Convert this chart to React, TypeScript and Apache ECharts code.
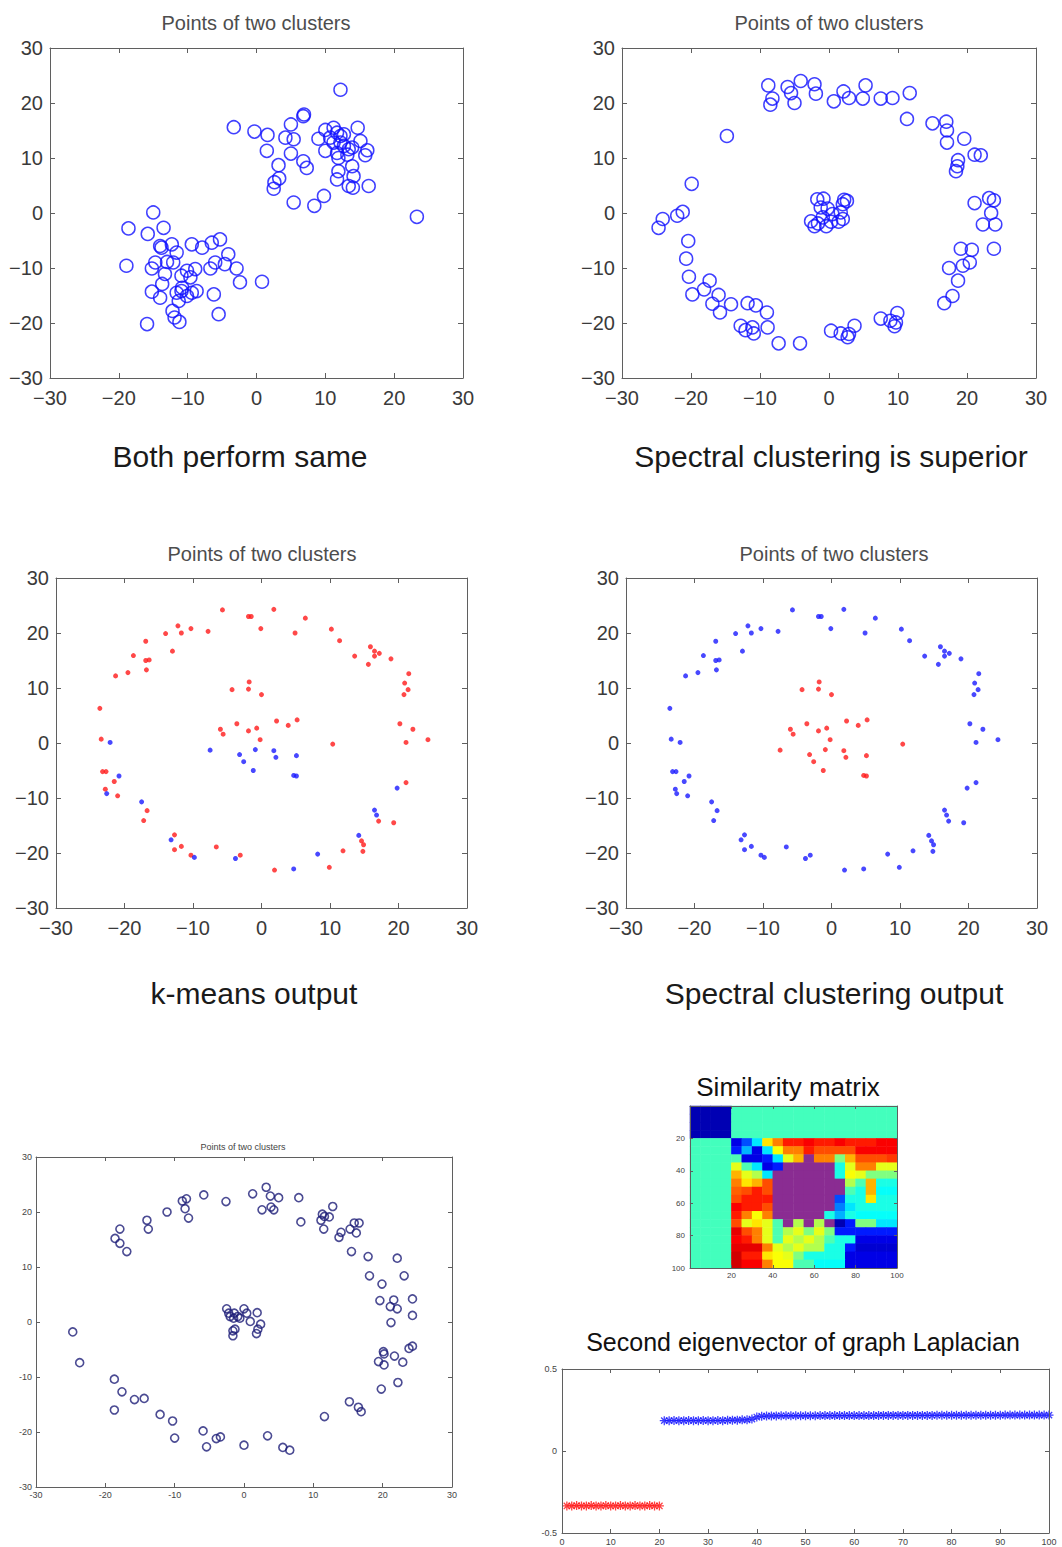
import React, { useEffect, useRef } from 'react';
import * as echarts from 'echarts';

// ---------- DATA ----------
// Panel 1: two gaussian blobs
const blobPoints: number[][] = [
  [12.2, 22.4], [-3.3, 15.6], [-0.3, 14.8], [1.6, 14.2], [5.0, 16.1], [6.8, 17.6], [6.9, 17.9], [4.2, 13.7],
  [5.4, 13.4], [1.5, 11.3], [5.0, 10.8], [6.8, 9.4], [7.3, 8.2], [3.2, 8.7], [3.3, 6.3], [2.6, 5.6],
  [2.5, 4.4], [5.4, 1.9], [8.4, 1.3], [9.8, 3.1], [9.0, 13.5], [10.0, 15.1], [11.2, 15.5], [11.7, 14.6],
  [12.2, 14.0], [10.7, 13.7], [11.2, 12.8], [12.7, 12.2], [11.7, 10.9], [10.0, 11.3], [13.4, 11.6], [13.9, 11.9],
  [14.7, 15.5], [15.1, 13.1], [16.1, 11.4], [15.8, 10.5], [16.3, 4.9], [13.9, 8.5], [14.1, 6.7], [11.9, 7.6],
  [11.7, 6.1], [13.4, 4.9], [14.0, 4.6], [12.7, 14.3], [13.2, 10.6], [23.3, -0.7], [12.2, 12.8], [11.9, 10.0],
  [-15.0, 0.1], [-18.6, -2.8], [-13.5, -2.7], [-15.8, -3.8], [-14.0, -6.0], [-13.8, -6.3], [-12.3, -5.7], [-11.6, -7.2],
  [-9.4, -5.7], [-7.9, -6.3], [-6.5, -5.4], [-5.3, -4.8], [-4.1, -7.5], [-4.6, -9.3], [-2.9, -10.1], [-2.4, -12.6],
  [0.8, -12.5], [-6.0, -9.0], [-6.7, -10.1], [-6.2, -14.8], [-5.5, -18.4], [-18.9, -9.6], [-15.2, -10.1], [-14.7, -9.0],
  [-13.0, -8.9], [-12.1, -9.0], [-13.3, -11.1], [-13.7, -12.9], [-15.2, -14.3], [-14.0, -15.4], [-10.9, -11.4], [-10.1, -10.5],
  [-8.9, -10.2], [-9.6, -11.7], [-11.6, -14.5], [-10.9, -14.2], [-10.1, -15.1], [-9.4, -14.5], [-8.7, -14.2], [-11.3, -16.0],
  [-12.2, -17.8], [-11.9, -19.0], [-11.2, -19.8], [-15.9, -20.2], [-10.8, -13.6],
];

// Panel 2: ring + center cluster
const ringPointsA: number[][] = [
  [-8.8, 23.2], [-8.2, 20.8], [-8.5, 19.7], [-6.0, 22.9], [-5.5, 21.8], [-5.0, 20.0], [-4.1, 24.0], [-2.1, 23.4],
  [-1.9, 21.7], [0.7, 20.3], [2.1, 22.1], [2.9, 20.9], [4.9, 20.8], [5.3, 23.2], [7.5, 20.8], [9.2, 20.9],
  [11.7, 21.8], [11.3, 17.1], [15.0, 16.3], [17.0, 16.6], [17.1, 15.0], [17.1, 12.8], [19.6, 13.5], [21.1, 10.6],
  [22.0, 10.5], [18.7, 9.6], [18.6, 8.5], [18.4, 7.6], [21.1, 1.8], [23.2, 2.7], [23.9, 2.3], [23.5, 0.0],
  [22.3, -2.1], [24.1, -2.1], [19.1, -6.5], [20.7, -6.7], [23.9, -6.5], [17.4, -10.0], [19.4, -9.6], [20.4, -9.0],
  [18.7, -12.3], [17.9, -15.1], [16.7, -16.4], [9.9, -18.2], [7.5, -19.2], [8.9, -19.6], [9.5, -20.6], [9.7, -19.9],
  [3.7, -20.5], [0.3, -21.4], [1.7, -21.9], [2.7, -22.6], [2.9, -22.0], [-4.2, -23.7], [-7.3, -23.7], [-9.0, -18.1],
  [-8.9, -20.8], [-10.9, -21.9], [-11.1, -20.8], [-12.8, -20.5], [-12.1, -21.3], [-10.6, -16.8], [-11.8, -16.4], [-14.2, -16.6],
  [-15.8, -18.1], [-16.0, -14.9], [-16.9, -16.5], [-18.1, -13.9], [-17.3, -12.3], [-19.8, -14.8], [-20.3, -11.6], [-20.7, -8.3],
  [-20.4, -5.1], [-24.7, -2.7], [-24.1, -1.1], [-22.0, -0.5], [-21.2, 0.2], [-19.9, 5.3], [-14.8, 14.0],
  [-1.7, 2.5], [-0.8, 2.6], [2.2, 2.4], [2.6, 2.2], [2.0, 1.6], [-1.2, 1.0], [-0.2, 0.8], [1.7, 0.1],
  [0.5, -0.2], [-2.6, -1.5], [-1.6, -1.9], [-0.4, -2.4], [0.3, -1.6], [1.4, -1.6], [-0.9, -0.8], [2.0, -1.1], [-2.1, -2.4],
];

// Panels 3 & 4: same points, two different clusterings
const ringPointsB: number[][] = [
  [-5.7, 24.2], [-1.9, 23.0], [-1.5, 23.0], [1.8, 24.3], [6.4, 22.7], [-0.1, 20.8], [4.9, 20.0], [10.2, 20.7],
  [11.4, 18.6], [-7.8, 20.3], [-10.3, 20.8], [-11.7, 20.0], [-12.2, 21.3], [-14.0, 19.9], [-13.0, 16.7], [-16.9, 18.5],
  [-18.7, 15.9], [-16.9, 15.0], [-16.4, 15.1], [-16.8, 13.3], [-19.5, 12.8], [-21.3, 12.2], [-23.6, 6.3], [-23.4, 0.7],
  [-22.1, 0.1], [-23.2, -5.2], [-22.7, -5.2], [-21.5, -7.0], [-20.8, -6.0], [-22.8, -8.4], [-22.6, -9.2], [-21.0, -9.6],
  [-17.5, -10.7], [-16.7, -12.3], [-17.2, -14.1], [-12.7, -16.7], [-13.2, -17.6], [-12.7, -19.4], [-11.7, -18.8], [-10.3, -20.4],
  [-9.8, -20.8], [-6.6, -18.9], [-3.8, -21.0], [-3.1, -20.4], [1.9, -23.1], [4.7, -22.9], [8.2, -20.2], [9.9, -22.6],
  [11.9, -19.6], [14.2, -16.8], [14.6, -17.8], [14.9, -18.5], [14.8, -19.7], [16.5, -12.2], [16.8, -13.1], [17.1, -14.2],
  [19.3, -14.5], [19.8, -8.2], [21.1, -7.2], [21.1, 0.1], [24.3, 0.6], [22.1, 2.5], [20.2, 3.5], [20.8, 8.8],
  [21.4, 9.7], [20.9, 10.9], [21.5, 12.6], [18.9, 15.3], [17.2, 16.3], [16.5, 15.8], [16.5, 16.7], [15.9, 17.5],
  [15.6, 14.3], [13.6, 15.8],
  [-1.8, 11.1], [-1.9, 9.8], [-4.3, 9.7], [0.0, 8.8], [-6.0, 2.5], [-5.6, 1.6], [-3.6, 3.5], [-1.9, 2.2],
  [-0.7, 2.7], [-0.2, 0.6], [2.2, 4.0], [3.9, 3.2], [5.2, 4.2], [10.4, -0.2], [-7.5, -1.3], [-3.2, -2.1],
  [-2.6, -3.4], [-1.2, -5.0], [-0.9, -1.2], [1.8, -1.4], [2.1, -2.6], [5.1, -2.3], [4.7, -5.9], [5.1, -6.0],
];
// 1 = red cluster, 2 = blue cluster
const kmeansCluster: number[] = [
  1, 1, 1, 1, 1, 1, 1, 1, 1, 1, 1, 1, 1, 1, 1, 1, 1, 1, 1, 1, 1, 1, 1, 1,
  2, 1, 1, 1, 2, 1, 2, 1, 2, 1, 1, 1, 2, 1, 1, 1, 2, 1, 2, 1, 1, 2, 2, 1,
  1, 2, 1, 1, 1, 2, 2, 1, 1, 2, 1, 1, 1, 1, 1, 1, 1, 1, 1, 1, 1, 1, 1, 1,
  1, 1,
  1, 1, 1, 1, 1, 1, 1, 1, 1, 1, 1, 1, 1, 1, 2, 2, 2, 2, 2, 2, 2, 2, 2, 2,
];
const spectralCluster: number[] = [
  2, 2, 2, 2, 2, 2, 2, 2, 2, 2, 2, 2, 2, 2, 2, 2, 2, 2, 2, 2, 2, 2, 2, 2,
  2, 2, 2, 2, 2, 2, 2, 2, 2, 2, 2, 2, 2, 2, 2, 2, 2, 2, 2, 2, 2, 2, 2, 2,
  2, 2, 2, 2, 2, 2, 2, 2, 2, 2, 2, 2, 2, 2, 2, 2, 2, 2, 2, 2, 2, 2, 2, 2,
  2, 2,
  1, 1, 1, 1, 1, 1, 1, 1, 1, 1, 1, 1, 1, 1, 1, 1, 1, 1, 1, 1, 1, 1, 1, 1,
];

// Panel 5: ring data used for the similarity matrix
const ringPointsC: number[][] = [
  [3.2, 24.5], [1.25, 23.3], [3.8, 22.9], [5.0, 22.6], [-5.8, 23.1], [-2.6, 21.9], [-8.9, 22.0], [-8.3, 22.4],
  [-8.5, 20.6], [-8.0, 18.9], [-11.1, 20.0], [-14.0, 18.5], [-13.8, 16.9], [-17.9, 16.9], [-18.6, 15.2], [-17.9, 14.3],
  [-16.9, 12.8], [2.6, 20.4], [3.9, 20.9], [4.3, 20.4], [7.9, 22.6], [8.2, 18.2], [12.8, 21.0], [11.3, 19.6],
  [11.6, 19.2], [11.1, 18.5], [12.3, 19.1], [11.5, 16.9], [13.7, 15.4], [14.0, 16.3], [15.3, 16.9], [15.9, 18.0],
  [16.6, 18.0], [16.2, 16.2], [15.5, 12.8], [17.9, 11.9], [22.1, 11.6], [18.1, 8.4], [23.1, 8.4], [19.9, 6.9],
  [19.6, 3.9], [21.6, 4.0], [21.1, 2.8], [22.1, 2.4], [24.3, 4.2], [24.3, 1.2], [21.2, -0.1], [20.1, -5.4],
  [20.2, -5.8], [21.7, -6.2], [19.4, -7.2], [20.2, -7.8], [22.9, -7.3], [23.8, -4.8], [24.3, -4.4], [19.8, -12.2],
  [22.2, -11.0], [15.2, -14.5], [16.5, -15.5], [16.9, -16.3], [11.6, -17.2], [3.4, -20.7], [5.6, -22.8], [6.6, -23.3],
  [0.0, -22.4], [-3.4, -20.9], [-4.0, -21.2], [-5.4, -22.7], [-5.9, -19.8], [-10.0, -21.1], [-10.3, -18.0], [-12.1, -16.8],
  [-14.4, -13.9], [-15.8, -14.1], [-17.6, -12.7], [-18.7, -10.4], [-18.7, -16.0], [-23.7, -7.4], [-24.7, -1.8],
  [-2.5, 2.4], [-2.2, 1.6], [-1.4, 1.6], [0.0, 2.4], [0.4, 1.6], [1.9, 1.7], [-2.0, 1.0], [-1.5, 0.7],
  [-0.9, 1.0], [-0.6, 0.7], [0.9, 0.1], [2.4, -0.4], [2.0, -1.3], [1.8, -2.1], [-1.3, -1.3], [-1.6, -1.6], [-1.6, -2.5],
];

// Similarity matrix read in 5x5 index blocks (rows top->bottom); 1.2 marks the purple mixed zone
const simMatrix: number[][] = [
  [0.05, 0.05, 0.05, 0.05, 0.44, 0.44, 0.44, 0.44, 0.44, 0.44, 0.44, 0.44, 0.44, 0.44, 0.44, 0.44, 0.44, 0.44, 0.44, 0.44],
  [0.05, 0.05, 0.05, 0.05, 0.44, 0.44, 0.44, 0.44, 0.44, 0.44, 0.44, 0.44, 0.44, 0.44, 0.44, 0.44, 0.44, 0.44, 0.44, 0.44],
  [0.05, 0.05, 0.05, 0.05, 0.44, 0.44, 0.44, 0.44, 0.44, 0.44, 0.44, 0.44, 0.44, 0.44, 0.44, 0.44, 0.44, 0.44, 0.44, 0.44],
  [0.05, 0.05, 0.05, 0.05, 0.44, 0.44, 0.44, 0.44, 0.44, 0.44, 0.44, 0.44, 0.44, 0.44, 0.44, 0.44, 0.44, 0.44, 0.44, 0.44],
  [0.44, 0.44, 0.44, 0.44, 0.1, 0.2, 0.35, 0.65, 0.75, 0.85, 0.85, 0.88, 0.85, 0.85, 0.88, 0.85, 0.85, 0.85, 0.88, 0.88],
  [0.44, 0.44, 0.44, 0.44, 0.15, 0.3, 0.1, 0.35, 0.62, 0.75, 0.75, 0.85, 0.8, 0.8, 0.8, 0.8, 0.88, 0.88, 0.88, 0.88],
  [0.44, 0.44, 0.44, 0.44, 0.45, 0.1, 0.1, 0.15, 0.35, 0.6, 0.7, 1.2, 0.75, 0.75, 0.5, 0.7, 0.8, 0.8, 0.8, 0.82],
  [0.44, 0.44, 0.44, 0.44, 0.6, 0.45, 0.35, 0.1, 0.15, 1.2, 1.2, 1.2, 1.2, 1.2, 0.4, 0.6, 0.75, 0.75, 0.6, 0.6],
  [0.44, 0.44, 0.44, 0.44, 0.7, 0.6, 0.55, 0.35, 1.2, 1.2, 1.2, 1.2, 1.2, 1.2, 0.4, 0.62, 0.6, 0.5, 0.5, 0.5],
  [0.44, 0.44, 0.44, 0.44, 0.75, 0.65, 0.7, 0.8, 1.2, 1.2, 1.2, 1.2, 1.2, 1.2, 1.2, 0.55, 0.45, 0.7, 0.4, 0.4],
  [0.44, 0.44, 0.44, 0.44, 0.78, 0.8, 0.85, 0.8, 1.2, 1.2, 1.2, 1.2, 1.2, 1.2, 1.2, 0.45, 0.4, 0.7, 0.38, 0.38],
  [0.44, 0.44, 0.44, 0.44, 0.8, 0.85, 0.85, 0.85, 1.2, 1.2, 1.2, 1.2, 1.2, 1.2, 0.2, 0.4, 0.4, 0.65, 0.4, 0.4],
  [0.44, 0.44, 0.44, 0.44, 0.88, 0.85, 0.85, 0.8, 1.2, 1.2, 1.2, 1.2, 1.2, 1.2, 0.25, 0.35, 0.4, 0.4, 0.4, 0.4],
  [0.44, 0.44, 0.44, 0.44, 0.85, 0.75, 0.62, 0.75, 1.2, 1.2, 1.2, 1.2, 1.2, 0.4, 0.3, 0.4, 0.38, 0.38, 0.38, 0.38],
  [0.44, 0.44, 0.44, 0.44, 0.8, 0.6, 0.65, 0.6, 0.45, 1.2, 0.55, 1.2, 0.55, 1.2, 0.05, 0.15, 0.5, 0.5, 0.35, 0.35],
  [0.44, 0.44, 0.44, 0.44, 0.9, 0.8, 0.75, 0.6, 0.45, 0.55, 0.6, 0.5, 0.6, 0.5, 0.15, 0.15, 0.15, 0.15, 0.15, 0.15],
  [0.44, 0.44, 0.44, 0.44, 0.88, 0.85, 0.75, 0.6, 0.45, 0.6, 0.55, 0.6, 0.55, 0.45, 0.4, 0.4, 0.1, 0.1, 0.1, 0.1],
  [0.44, 0.44, 0.44, 0.44, 0.9, 0.9, 0.9, 0.75, 0.6, 0.55, 0.6, 0.55, 0.55, 0.4, 0.4, 0.15, 0.08, 0.08, 0.08, 0.08],
  [0.44, 0.44, 0.44, 0.44, 0.92, 0.85, 0.85, 0.65, 0.62, 0.6, 0.5, 0.4, 0.4, 0.4, 0.4, 0.1, 0.1, 0.1, 0.1, 0.1],
  [0.44, 0.44, 0.44, 0.44, 0.92, 0.88, 0.88, 0.75, 0.62, 0.62, 0.45, 0.45, 0.38, 0.38, 0.38, 0.1, 0.1, 0.1, 0.1, 0.1],
];

// Second eigenvector: indices 1-20 (red) and 21-100 (blue)
const eigenRed: number[] = [
  -0.335, -0.335, -0.333, -0.335, -0.335, -0.333, -0.335, -0.335, -0.333, -0.335,
  -0.335, -0.333, -0.335, -0.335, -0.333, -0.335, -0.335, -0.333, -0.335, -0.335,
];
const eigenBlue: number[] = [
  0.185, 0.185, 0.186, 0.185, 0.185, 0.186, 0.185, 0.185, 0.186, 0.185,
  0.185, 0.186, 0.185, 0.187, 0.188, 0.188, 0.19, 0.19, 0.195, 0.207,
  0.212, 0.213, 0.214, 0.214, 0.215, 0.215, 0.215, 0.215, 0.215, 0.215,
  0.215, 0.215, 0.216, 0.216, 0.216, 0.216, 0.216, 0.216, 0.216, 0.216,
  0.216, 0.216, 0.216, 0.216, 0.217, 0.217, 0.217, 0.217, 0.217, 0.217,
  0.217, 0.217, 0.217, 0.217, 0.217, 0.217, 0.218, 0.218, 0.218, 0.218,
  0.218, 0.218, 0.218, 0.218, 0.218, 0.218, 0.218, 0.218, 0.218, 0.218,
  0.219, 0.219, 0.219, 0.219, 0.219, 0.219, 0.219, 0.219, 0.219, 0.219,
];

// ---------- STYLE ----------
const FONT = '"Liberation Sans", Arial, Helvetica, sans-serif';
const AXIS_GRAY = '#5f5f5f';
// jet colormap on 0..1 (stops every 0.125), then a purple band above 1 for the mixed red/blue zone
const JET_PLUS = ['#000080', '#0000ff', '#0080ff', '#00ffff', '#80ff80', '#ffff00', '#ff8000', '#ff0000', '#800000', '#8a2c92', '#8a2c92'];
const ASTERISK = 'path://M5,0L5,10M0,5L10,5M1.5,1.5L8.5,8.5M8.5,1.5L1.5,8.5';

const uMinus = (v: number) => (v < 0 ? '\u2212' + Math.abs(v) : String(v));

interface AxisSpec {
  min: number; max: number; interval: number; fontSize: number; margin: number;
  formatter?: (v: number) => string; inverse?: boolean; color?: string;
}

function buildOption() {
  const grids: any[] = [];
  const xAxes: any[] = [];
  const yAxes: any[] = [];

  function addPanel(rect: number[], xs: AxisSpec, ys: AxisSpec, tickLen: number) {
    const gi = grids.length;
    grids.push({ left: rect[0], top: rect[1], width: rect[2], height: rect[3], containLabel: false, z: 3 });
    const mk = (s: AxisSpec, pos: string, labels: boolean) => ({
      type: 'value', gridIndex: gi, position: pos, min: s.min, max: s.max, interval: s.interval,
      inverse: !!s.inverse,
      axisLine: { show: true, onZero: false, lineStyle: { color: AXIS_GRAY, width: 1 } },
      axisTick: { show: true, inside: true, length: tickLen, lineStyle: { color: AXIS_GRAY, width: 1 } },
      axisLabel: {
        show: labels, fontSize: s.fontSize, margin: s.margin, color: s.color || '#3a3a3a', fontFamily: FONT,
        showMinLabel: true, showMaxLabel: true, formatter: s.formatter,
      },
      splitLine: { show: false },
      z: 5,
    });
    const xi = xAxes.length;
    xAxes.push(mk(xs, 'bottom', true));
    xAxes.push(mk(xs, 'top', false));
    const yi = yAxes.length;
    yAxes.push(mk(ys, 'left', true));
    yAxes.push(mk(ys, 'right', false));
    return { xi, yi };
  }

  const bigX: AxisSpec = { min: -30, max: 30, interval: 10, fontSize: 20, margin: 10, formatter: uMinus };
  const bigY: AxisSpec = { min: -30, max: 30, interval: 10, fontSize: 20, margin: 7, formatter: uMinus };
  const p1 = addPanel([50, 48, 413, 330], bigX, bigY, 5);
  const p2 = addPanel([622, 48, 414, 330], bigX, bigY, 5);
  const p3 = addPanel([56, 578, 411, 330], bigX, bigY, 5);
  const p4 = addPanel([626, 578, 411, 330], bigX, bigY, 5);
  const smallX: AxisSpec = { min: -30, max: 30, interval: 10, fontSize: 9, margin: 3, color: '#444' };
  const smallY: AxisSpec = { min: -30, max: 30, interval: 10, fontSize: 9, margin: 4, color: '#444' };
  const p5 = addPanel([36, 1157, 416, 330], smallX, smallY, 4);

  // heatmap grid (category axes hidden)
  const heatRect = [690, 1106, 207, 162];
  const hg = grids.length;
  grids.push({ left: heatRect[0], top: heatRect[1], width: heatRect[2], height: heatRect[3], containLabel: false });
  const blocks = simMatrix.map((_, i) => String(i));
  const hxi = xAxes.length;
  xAxes.push({ type: 'category', gridIndex: hg, data: blocks, show: false });
  const hyi = yAxes.length;
  yAxes.push({ type: 'category', gridIndex: hg, data: blocks, inverse: true, show: false });
  const hideZero = (v: number) => (v === 0 ? '' : String(v));
  addPanel(heatRect,
    { min: 0, max: 100, interval: 20, fontSize: 8, margin: 3, formatter: hideZero, color: '#444' },
    { min: 0, max: 100, interval: 20, fontSize: 8, margin: 5, formatter: hideZero, inverse: true, color: '#444' }, 3);

  const pe = addPanel([562, 1369, 487, 164],
    { min: 0, max: 100, interval: 10, fontSize: 9, margin: 4, color: '#444' },
    { min: -0.5, max: 0.5, interval: 0.5, fontSize: 9, margin: 5, color: '#444' }, 4);

  const openCircle = (color: string, w: number) => ({ color: 'rgba(0,0,0,0)', borderColor: color, borderWidth: w });
  const pick = (labels: number[], k: number) => ringPointsB.filter((_, i) => labels[i] === k);

  const heatData: number[][] = [];
  simMatrix.forEach((row, r) => row.forEach((v, c) => heatData.push([c, r, v])));

  const series: any[] = [
    { type: 'scatter', xAxisIndex: p1.xi, yAxisIndex: p1.yi, data: blobPoints, symbol: 'circle', symbolSize: 13, itemStyle: openCircle('#1010ff', 1.5) },
    { type: 'scatter', xAxisIndex: p2.xi, yAxisIndex: p2.yi, data: ringPointsA, symbol: 'circle', symbolSize: 13, itemStyle: openCircle('#1010ff', 1.5) },
    { type: 'scatter', xAxisIndex: p3.xi, yAxisIndex: p3.yi, data: pick(kmeansCluster, 1), symbol: 'circle', symbolSize: 5, itemStyle: { color: '#ff1a1a' } },
    { type: 'scatter', xAxisIndex: p3.xi, yAxisIndex: p3.yi, data: pick(kmeansCluster, 2), symbol: 'circle', symbolSize: 5, itemStyle: { color: '#1a1aff' } },
    { type: 'scatter', xAxisIndex: p4.xi, yAxisIndex: p4.yi, data: pick(spectralCluster, 1), symbol: 'circle', symbolSize: 5, itemStyle: { color: '#ff1a1a' } },
    { type: 'scatter', xAxisIndex: p4.xi, yAxisIndex: p4.yi, data: pick(spectralCluster, 2), symbol: 'circle', symbolSize: 5, itemStyle: { color: '#1a1aff' } },
    { type: 'scatter', xAxisIndex: p5.xi, yAxisIndex: p5.yi, data: ringPointsC, symbol: 'circle', symbolSize: 8, itemStyle: openCircle('#1e1e78', 1.6) },
    { type: 'heatmap', xAxisIndex: hxi, yAxisIndex: hyi, data: heatData, progressive: 0 },
    { type: 'scatter', xAxisIndex: pe.xi, yAxisIndex: pe.yi, data: eigenRed.map((v, i) => [i + 1, v]), symbol: ASTERISK, symbolSize: 9, itemStyle: { color: '#ff1010', borderColor: '#ff1010', borderWidth: 1.3 } },
    { type: 'scatter', xAxisIndex: pe.xi, yAxisIndex: pe.yi, data: eigenBlue.map((v, i) => [i + 21, v]), symbol: ASTERISK, symbolSize: 9, itemStyle: { color: '#1010ff', borderColor: '#1010ff', borderWidth: 1.3 } },
  ];

  const txt = (text: string, x: number, y: number, size: number, fill: string) => ({
    type: 'text', x, y, z: 10,
    style: { text, fill, fontSize: size, fontFamily: FONT, align: 'center', verticalAlign: 'middle', textAlign: 'center', textVerticalAlign: 'middle' },
  });

  const graphic = [
    txt('Points of two clusters', 256, 23, 20, '#4d4d4d'),
    txt('Points of two clusters', 829, 23, 20, '#4d4d4d'),
    txt('Points of two clusters', 262, 554, 20, '#4d4d4d'),
    txt('Points of two clusters', 834, 554, 20, '#4d4d4d'),
    txt('Points of two clusters', 243, 1147, 9, '#444'),
    txt('Both perform same', 240, 456, 30, '#1a1a1a'),
    txt('Spectral clustering is superior', 831, 456, 30, '#1a1a1a'),
    txt('k-means output', 254, 993, 30, '#1a1a1a'),
    txt('Spectral clustering output', 834, 993, 30, '#1a1a1a'),
    txt('Similarity matrix', 788, 1087, 26, '#111'),
    txt('Second eigenvector of graph Laplacian', 803, 1342, 25, '#111'),
  ];

  return {
    animation: false,
    backgroundColor: '#ffffff',
    grid: grids,
    xAxis: xAxes,
    yAxis: yAxes,
    visualMap: {
      show: false, type: 'continuous', min: 0, max: 1.25, seriesIndex: 7,
      inRange: { color: JET_PLUS },
    },
    series,
    graphic,
  };
}

export default function App() {
  const ref = useRef<HTMLDivElement>(null);
  useEffect(() => {
    const chart = echarts.init(ref.current as HTMLDivElement, null, { renderer: 'svg' });
    chart.setOption(buildOption() as any);
    return () => chart.dispose();
  }, []);
  return (
    <div
      ref={ref}
      style={{ position: 'absolute', left: 0, top: 0, width: 1062, height: 1547, background: '#fff' }}
    />
  );
}
